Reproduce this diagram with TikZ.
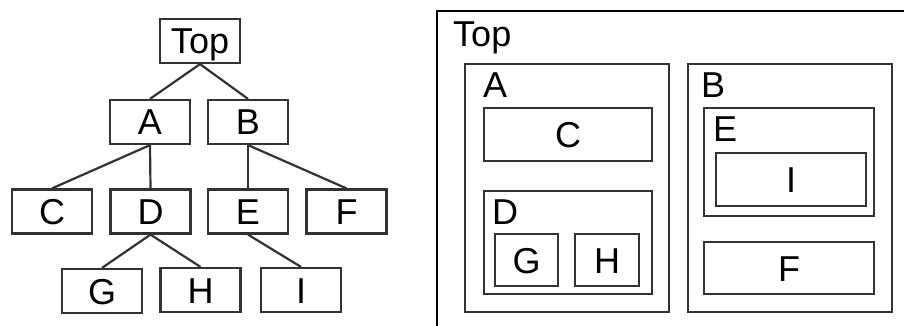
\documentclass[tikz,border=0pt]{standalone}
\usepackage{fontspec}
\setmainfont{Liberation Sans}
\usepackage{tikz}
\usetikzlibrary{positioning}
\definecolor{linegray}{RGB}{50,50,50}
\tikzset{
    treebox/.style={draw=linegray, line width=2.2pt, inner sep=0pt,
        minimum width=80pt, minimum height=44pt,
        text height=26pt, text depth=0pt, font=\fontsize{36}{40}\selectfont},
    nestbox/.style={draw=linegray, line width=2.2pt, inner sep=0pt,
        text height=26pt, text depth=0pt, font=\fontsize{36}{40}\selectfont},
    boxlabel/.style={anchor=north west, inner sep=0pt, font=\fontsize{36}{40}\selectfont},
    edge/.style={draw=linegray, line width=2.2pt}
}

\begin{document}
\begin{tikzpicture}[x=1pt, y=-1pt]
    \useasboundingbox (0,0) rectangle (904,326);

    % Tree view
    \node[treebox] (top) at (200,41) {Top};
    \node[treebox] (a) at (150,122) {A};
    \node[treebox] (b) at (248,122) {B};
    \node[treebox] (c) at (52,211.5) {C};
    \node[treebox] (d) at (150.5,211.5) {D};
    \node[treebox] (e) at (248,211.5) {E};
    \node[treebox] (f) at (346.5,211.5) {F};
    \node[treebox] (g) at (102,291) {G};
    \node[treebox] (h) at (200.5,290) {H};
    \node[treebox] (i) at (301,290) {I};
    \foreach \p/\c in {top/a, top/b, a/c, a/d, b/e, b/f, d/g, d/h, e/i} {
        \draw[edge] (\p.south) -- (\c.north);
    }

    % Nested boxes view
    \node[draw=black, line width=2.6pt, minimum width=480pt, minimum height=330pt] (boxTop) at (677,176) {};
    \node[boxlabel] (lblTop) at (453,22) {Top};

    \node[nestbox, minimum width=204pt, minimum height=248pt] (boxA) at (567,188) {};
    \node[boxlabel] (lblA) at (483,73) {A};
    \node[nestbox, minimum width=168pt, minimum height=53pt] (boxC) at (568,134.5) {C};
    \node[nestbox, minimum width=168pt, minimum height=103pt] (boxD) at (568,242.5) {};
    \node[boxlabel] (lblD) at (492,200) {D};
    \node[nestbox, minimum width=63pt, minimum height=52pt] (boxG) at (526.5,260) {G};
    \node[nestbox, minimum width=64pt, minimum height=52pt] (boxH) at (607,260) {H};

    \node[nestbox, minimum width=204pt, minimum height=248pt] (boxB) at (790,188) {};
    \node[boxlabel] (lblB) at (701,73) {B};
    \node[nestbox, minimum width=170pt, minimum height=108pt] (boxE) at (789,162) {};
    \node[boxlabel] (lblE) at (713,117) {E};
    \node[nestbox, minimum width=150pt, minimum height=53pt] (boxI) at (791,179.5) {I};
    \node[nestbox, minimum width=170pt, minimum height=52pt] (boxF) at (789,268) {F};
\end{tikzpicture}
\end{document}
